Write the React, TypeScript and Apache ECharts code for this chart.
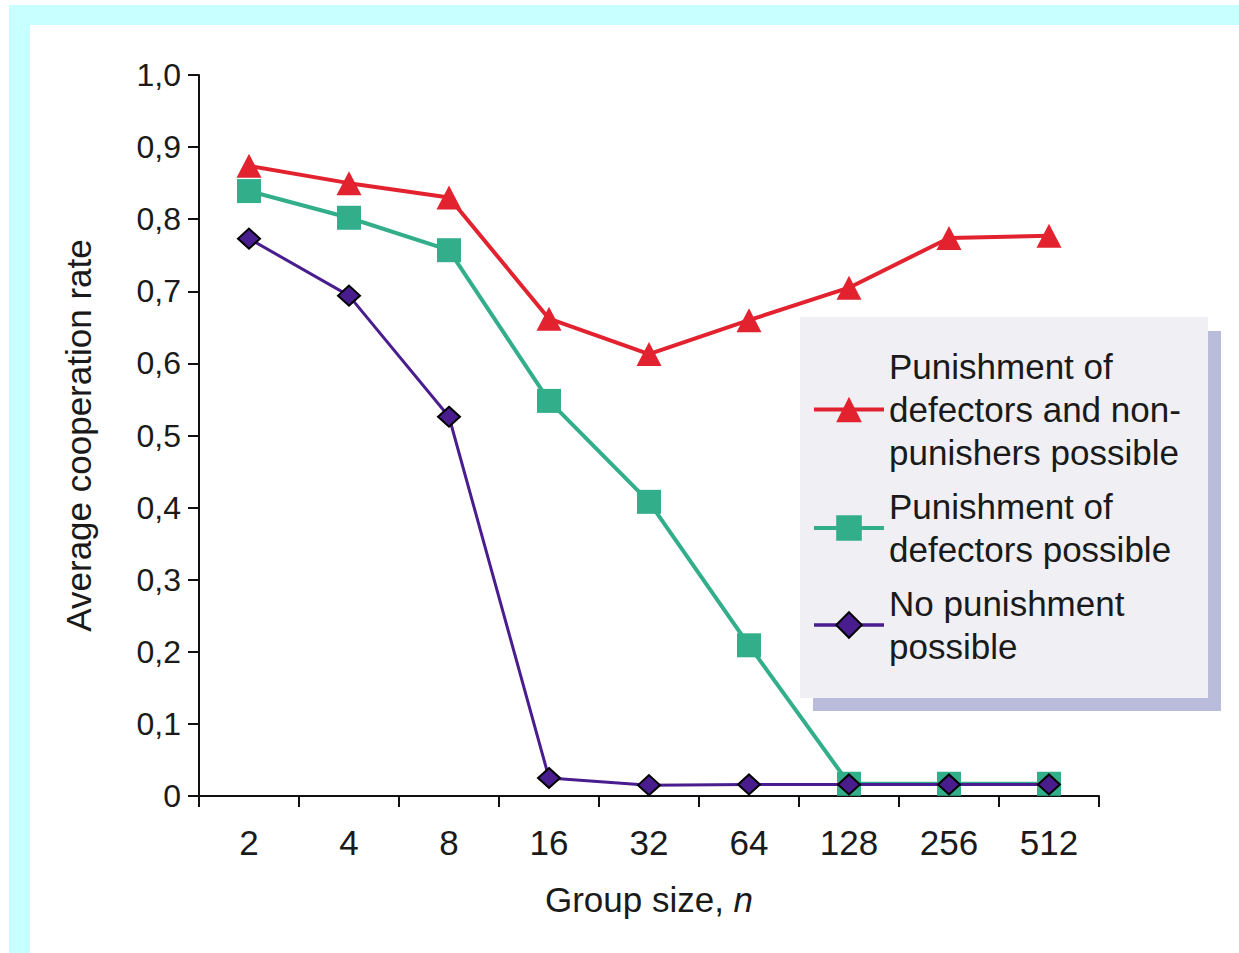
import React, { useEffect, useRef } from "react";
import * as echarts from "echarts";

const groupSizes = ["2", "4", "8", "16", "32", "64", "128", "256", "512"];
const seriesNames = [
  "Punishment of\ndefectors and non-\npunishers possible",
  "Punishment of\ndefectors possible",
  "No punishment\npossible",
];
const defectorsAndNonPunishers = [0.874, 0.85, 0.83, 0.662, 0.613, 0.66, 0.705, 0.774, 0.777];
const defectorsOnly = [0.839, 0.802, 0.757, 0.548, 0.408, 0.209, 0.017, 0.017, 0.017];
const noPunishment = [0.773, 0.694, 0.526, 0.025, 0.015, 0.016, 0.016, 0.016, 0.016];
const yTickLabels = ["0", "0,1", "0,2", "0,3", "0,4", "0,5", "0,6", "0,7", "0,8", "0,9", "1,0"];

const FONT = '"Liberation Sans", Arial, Helvetica, sans-serif';
const RED = "#e2232f";
const GREEN = "#33ae8b";
const PURPLE = "#4a1d8e";

export default function App() {
  const ref = useRef<HTMLDivElement>(null);
  useEffect(() => {
    if (!ref.current) return;
    const chart = echarts.init(ref.current, null, { renderer: "svg" });
    chart.setOption({
      animation: false,
      backgroundColor: "#ffffff",
      textStyle: { fontFamily: FONT },
      grid: { left: 199, top: 75, width: 900, height: 721, containLabel: false },
      graphic: [
        { type: "rect", z: 0, shape: { x: 9, y: 5, width: 1230, height: 20 }, style: { fill: "#c8ffff" } },
        { type: "rect", z: 0, shape: { x: 9, y: 5, width: 21, height: 948 }, style: { fill: "#c8ffff" } },
        { type: "rect", z: 1, shape: { x: 813, y: 331, width: 408, height: 380 }, style: { fill: "#b9bddb" } },
        { type: "rect", z: 2, shape: { x: 800, y: 317, width: 408, height: 381 }, style: { fill: "#efeff4" } },
      ],
      legend: {
        orient: "vertical",
        left: 812,
        top: 345,
        padding: 0,
        itemGap: 11,
        itemWidth: 70,
        itemHeight: 32,
        selectedMode: false,
        z: 10,
        textStyle: { fontFamily: FONT, fontSize: 35, lineHeight: 43, color: "#1a1a1a" },
        data: [
          { name: seriesNames[0], lineStyle: { width: 4, color: RED } },
          { name: seriesNames[1], lineStyle: { width: 4, color: GREEN } },
          { name: seriesNames[2], lineStyle: { width: 3.5, color: PURPLE } },
        ],
      },
      xAxis: {
        type: "category",
        data: groupSizes,
        boundaryGap: true,
        axisLine: { show: true, lineStyle: { color: "#111", width: 2 } },
        axisTick: { show: true, length: 11, inside: false, alignWithLabel: false, lineStyle: { color: "#111", width: 2 } },
        axisLabel: { margin: 29, fontSize: 35, color: "#1a1a1a", fontFamily: FONT },
        splitLine: { show: false },
        name: "{a|Group size, }{b|n}",
        nameLocation: "middle",
        nameGap: 86,
        nameTextStyle: {
          rich: {
            a: { fontSize: 35, color: "#1a1a1a", fontFamily: FONT },
            b: { fontSize: 35, color: "#1a1a1a", fontFamily: FONT, fontStyle: "italic" },
          },
        },
      },
      yAxis: {
        type: "value",
        min: 0,
        max: 1,
        interval: 0.1,
        axisLine: { show: true, lineStyle: { color: "#111", width: 2 } },
        axisTick: { show: true, length: 11, inside: false, lineStyle: { color: "#111", width: 2 } },
        axisLabel: {
          margin: 18,
          fontSize: 32,
          color: "#1a1a1a",
          fontFamily: FONT,
          formatter: (v: number) => yTickLabels[Math.round(v * 10)],
        },
        splitLine: { show: false },
        name: "Average cooperation rate",
        nameLocation: "middle",
        nameGap: 103,
        nameTextStyle: { fontSize: 35, color: "#1a1a1a", fontFamily: FONT },
      },
      series: [
        {
          name: seriesNames[0],
          type: "line",
          data: defectorsAndNonPunishers,
          symbol: "triangle",
          symbolSize: [25, 24],
          lineStyle: { color: RED, width: 4 },
          itemStyle: { color: RED },
          z: 3,
        },
        {
          name: seriesNames[1],
          type: "line",
          data: defectorsOnly,
          symbol: "rect",
          symbolSize: 24,
          lineStyle: { color: GREEN, width: 4 },
          itemStyle: { color: GREEN },
          z: 4,
        },
        {
          name: seriesNames[2],
          type: "line",
          data: noPunishment,
          symbol: "diamond",
          symbolSize: [22, 20],
          lineStyle: { color: PURPLE, width: 3 },
          itemStyle: { color: PURPLE, borderColor: "#000", borderWidth: 2 },
          z: 5,
        },
      ],
    });
    return () => chart.dispose();
  }, []);
  return (
    <div
      ref={ref}
      style={{ position: "fixed", left: 0, top: 0, width: 1239, height: 953 }}
    />
  );
}
